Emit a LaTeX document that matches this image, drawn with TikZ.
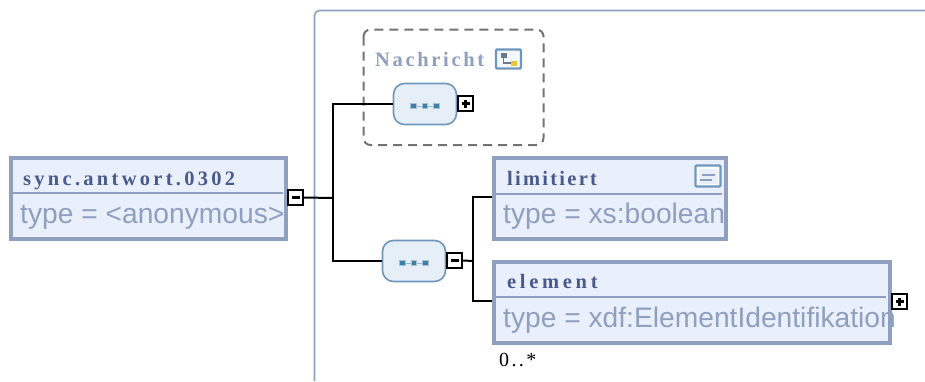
\documentclass[tikz,border=0pt]{standalone}
\usepackage{fontspec}
\setmainfont{Liberation Serif}
\newfontfamily\typefont{Liberation Sans}
\usetikzlibrary{calc}
\definecolor{frameblue}{HTML}{8F9FBF}
\definecolor{fillblue}{HTML}{E9F0FB}
\definecolor{titleblue}{HTML}{4A5A8C}
\definecolor{seqline}{HTML}{6F97BC}
\definecolor{seqfill}{HTML}{E6EFF7}
\definecolor{dotblue}{HTML}{3E7FA8}
\newcommand{\ttl}[2]{\addfontfeature{LetterSpace=#1}#2}
\tikzset{
  x=1pt,y=-1pt,
  elbox/.style={draw=frameblue,fill=fillblue,line width=4pt,inner sep=0pt},
  divider/.style={draw=frameblue,line width=2pt},
  titletext/.style={anchor=base west,inner sep=0pt,text=titleblue,font=\bfseries\fontsize{20.5}{20}\selectfont},
  typetext/.style={anchor=base west,inner sep=0pt,text=frameblue,font=\typefont\fontsize{28.2}{28}\selectfont},
  togglebox/.style={draw=black,fill=white,line width=2.4pt,minimum width=14.5pt,minimum height=14.5pt,inner sep=0pt},
  togglemark/.style={draw=black,line width=2.2pt},
  seqbox/.style={draw=seqline,fill=seqfill,line width=1.6pt,rounded corners=11pt,minimum width=63pt,minimum height=41pt,inner sep=0pt},
  conn/.style={draw=black,line width=2pt},
  seqdot/.style={draw=seqline!60!white,fill=dotblue,line width=.6pt,minimum size=5.5pt,inner sep=0pt},
  iconbox/.style={draw=seqline,fill=white,line width=2.4pt,inner sep=0pt,rounded corners=1pt},
}
\begin{document}
\begin{tikzpicture}
\useasboundingbox (0,0) rectangle (925,381);
% compositor frame
\draw[frameblue,line width=1.6pt,rounded corners=5pt] (314.5,381) -- (314.5,10.5) -- (925,10.5);
% optional group
\draw[gray!90!black,line width=2pt,dash pattern=on 9pt off 6pt,rounded corners=7pt] (363.5,29.5) rectangle (543.5,145);
\node[titletext,text=frameblue] (nachricht) at (375,66) {\ttl{13}{Nachricht}};
% group icon
\node[iconbox,fill=fillblue!50!white,minimum width=25pt,minimum height=19pt] (gicon) at (508.5,59) {};
\fill[frameblue!75!black] (501,53) rectangle (507,58);
\fill[yellow!55!brown] (511,60.5) rectangle (516.5,66);
\draw[frameblue!75!black,line width=1.8pt] (503.5,58) -- (503.5,63) -- (511,63);
\coordinate (j1) at (333,198);
\coordinate (j2) at (473,261);
% boxes
\node[elbox,minimum width=275pt,minimum height=81pt] (root) at (148.5,198.5) {};
\draw[divider] (13,193) -- (283,193);
\node[titletext] (t1) at (23,185) {\ttl{16}{sync.antwort.0302}};
\node[typetext] (ty1) at (20,223) {type = <anonymous>};

\node[elbox,minimum width=231.5pt,minimum height=81pt] (lim) at (609.75,198.5) {};
\draw[divider] (496,193.5) -- (722,193.5);
\node[titletext] (t2) at (507,185) {\ttl{11}{limitiert}};
\node[typetext] (ty2) at (503,223) {type = xs:boolean};
\node[iconbox,minimum width=25pt,minimum height=21pt] (dicon) at (708,176) {};
\fill[fillblue] (698.5,168.5) rectangle (717.5,183.5);
\draw[frameblue,line width=2pt] (702,174.5) -- (715,174.5) (700,180) -- (712,180);

\node[elbox,minimum width=396pt,minimum height=81pt] (el) at (692,302.5) {};
\draw[divider] (496,297) -- (886,297);
\node[titletext] (t3) at (507,288) {\ttl{18}{element}};
\node[typetext] (ty3) at (503,327) {type = xdf:ElementIdentifikation};
\node[anchor=base west,inner sep=0pt,font=\fontsize{20}{20}\selectfont] (mult) at (499,366) {\addfontfeature{LetterSpace=12}0..*};

% sequence boxes
\node[seqbox] (s1) at (425,104) {};
\node[seqbox] (s2) at (414,261) {};
\foreach \n in {s1,s2}{
  \draw[seqline!70!white,line width=1pt] ($(\n)+(-12,2)$) -- ($(\n)+(12,2)$);
  \foreach \d in {-11.5,0,11.5}{\node[seqdot] at ($(\n)+(\d,2)$) {};}
}
% connectors
\node[togglebox] (m1) at (295.5,197.5) {};
\draw[togglemark] (291.5,197.5) -- (299.5,197.5);
\node[togglebox] (p1) at (465.5,103.5) {};
\draw[togglemark] (461.5,103.5) -- (469.5,103.5) (465.5,99.5) -- (465.5,107.5);
\node[togglebox] (m2) at (454.5,260.5) {};
\draw[togglemark] (450.5,260.5) -- (458.5,260.5);
\node[togglebox] (p2) at (899.5,301.5) {};
\draw[togglemark] (895.5,301.5) -- (903.5,301.5) (899.5,297.5) -- (899.5,305.5);
\draw[conn] (m1.east) -- (j1);
\draw[conn] (s1.west) -| (j1) |- (s2.west);
\draw[conn] (m2.east) -- (j2);
\draw[conn] ($(lim.west)+(0,-1.5)$) -| (j2) |- ($(el.west)+(0,-1.5)$);
\end{tikzpicture}
\end{document}
